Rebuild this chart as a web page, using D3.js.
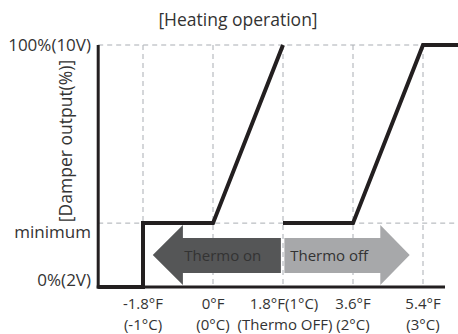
<!DOCTYPE html>
<html>
<head>
<meta charset="utf-8">
<script src="https://cdn.jsdelivr.net/npm/d3@7"></script>
<style>
  html, body { margin: 0; padding: 0; background: #fff; }
  svg text { font-family: "Open Sans", "Noto Sans", sans-serif; fill: #333; }
</style>
</head>
<body>
<svg id="chart" width="458" height="334"></svg>
<script>
// Temperature steps (°C offset from set point) and their labels
const tempSteps = [-1, 0, 1, 2, 3];
const tickLabelsF = ["-1.8°F", "0°F", "1.8°F(1°C)", "3.6°F", "5.4°F"];
const tickLabelsC = ["(-1°C)", "(0°C)", "(Thermo OFF)", "(2°C)", "(3°C)"];

// Damper output levels (%)
const minimumLevel = 26.4;
const outputLevels = [0, minimumLevel, 100];
const outputLabels = ["0%(2V)", "minimum", "100%(10V)"];

// Damper output while thermo on: [temp step, output %]
const thermoOnCurve = [[-1.64, 0], [-1, 0], [-1, minimumLevel], [0, minimumLevel], [1, 100]];
// Damper output while thermo off
const thermoOffCurve = [[1, minimumLevel], [2, minimumLevel], [3, 100], [3.5, 100]];

// Direction arrows: tail, head base and tip on the temperature axis
const arrows = [
  { label: "Thermo on",  tail: 0.97, headBase: -0.43, tip: -0.86, fill: "#555657", textX: 0.14 },
  { label: "Thermo off", tail: 1.02, headBase: 2.39,  tip: 2.81,  fill: "#a7a8aa", textX: 1.66 }
];
const arrowBody = [5.8, 20.2];   // body bottom/top (%)
const arrowHead = [0.8, 25.6];   // head bottom/top (%)

const svg = d3.select("#chart");
const x = d3.scaleLinear().domain([-1, 3]).range([143, 423]);
const y = d3.scaleLinear().domain([0, 100]).range([287, 45]);
const xLeft = x(-1.64), xRight = 445;

// Title
svg.append("text")
  .attr("x", 238).attr("y", 26)
  .attr("text-anchor", "middle")
  .attr("font-size", 17.5)
  .text("[Heating operation]");

// Y axis title
svg.append("text")
  .attr("transform", "translate(72, 141) rotate(-90)")
  .attr("text-anchor", "middle")
  .attr("font-size", 17.5)
  .text("[Damper output(%)]");

// Dashed guide lines
const grid = svg.append("g")
  .attr("stroke", "#a9adb3").attr("stroke-width", 1)
  .attr("stroke-dasharray", "5,4").attr("fill", "none");
grid.selectAll("line.v").data(tempSteps).join("line")
  .attr("class", "v")
  .attr("x1", d => x(d)).attr("x2", d => x(d))
  .attr("y1", y(100)).attr("y2", y(0));
grid.selectAll("line.h").data([minimumLevel, 100]).join("line")
  .attr("class", "h")
  .attr("x1", xLeft).attr("x2", 458)
  .attr("y1", d => y(d)).attr("y2", d => y(d));

// Arrows
const arrowG = svg.append("g");
arrows.forEach(a => {
  const pts = [
    [x(a.tail), y(arrowBody[1])],
    [x(a.headBase), y(arrowBody[1])],
    [x(a.headBase), y(arrowHead[1])],
    [x(a.tip), (y(arrowHead[1]) + y(arrowHead[0])) / 2],
    [x(a.headBase), y(arrowHead[0])],
    [x(a.headBase), y(arrowBody[0])],
    [x(a.tail), y(arrowBody[0])]
  ];
  arrowG.append("path")
    .attr("d", d3.line()(pts) + "Z")
    .attr("fill", a.fill);
  arrowG.append("text")
    .attr("x", x(a.textX)).attr("y", (y(arrowBody[0]) + y(arrowBody[1])) / 2 + 5.5)
    .attr("text-anchor", "middle")
    .attr("font-size", 15)
    .style("fill", "#333")
    .text(a.label);
});

// Axes
const axisG = svg.append("g").attr("stroke", "#231f20").attr("stroke-width", 3).attr("fill", "none");
axisG.append("line").attr("x1", xLeft).attr("x2", xLeft).attr("y1", y(100)).attr("y2", y(0) + 1.5);
axisG.append("line").attr("x1", xLeft - 1.5).attr("x2", xRight).attr("y1", y(0)).attr("y2", y(0));

// Output curves
const line = d3.line().x(d => x(d[0])).y(d => y(d[1]));
[thermoOnCurve, thermoOffCurve].forEach(c => {
  svg.append("path")
    .attr("d", line(c))
    .attr("fill", "none")
    .attr("stroke", "#231f20")
    .attr("stroke-width", 4)
    .attr("stroke-linejoin", "miter");
});

// Y tick labels
const yOffsets = [-7, 9, 0];
svg.selectAll("text.ylab").data(outputLevels).join("text")
  .attr("class", "ylab")
  .attr("x", 91)
  .attr("y", (d, i) => y(d) + 6 + yOffsets[i])
  .attr("text-anchor", "end")
  .attr("font-size", 17)
  .text((d, i) => outputLabels[i]);

// X tick labels (two lines: °F above, °C below)
const xg = svg.append("g");
xg.selectAll("text.f").data(tempSteps).join("text")
  .attr("class", "f")
  .attr("x", d => x(d) + (d === 1 ? 1 : 0))
  .attr("y", 308.5)
  .attr("text-anchor", "middle")
  .attr("font-size", 15)
  .text((d, i) => tickLabelsF[i]);
xg.selectAll("text.c").data(tempSteps).join("text")
  .attr("class", "c")
  .attr("x", d => x(d) + (d === 1 ? 2 : 0))
  .attr("y", 329.5)
  .attr("text-anchor", "middle")
  .attr("font-size", 15)
  .text((d, i) => tickLabelsC[i]);
</script>
</body>
</html>
